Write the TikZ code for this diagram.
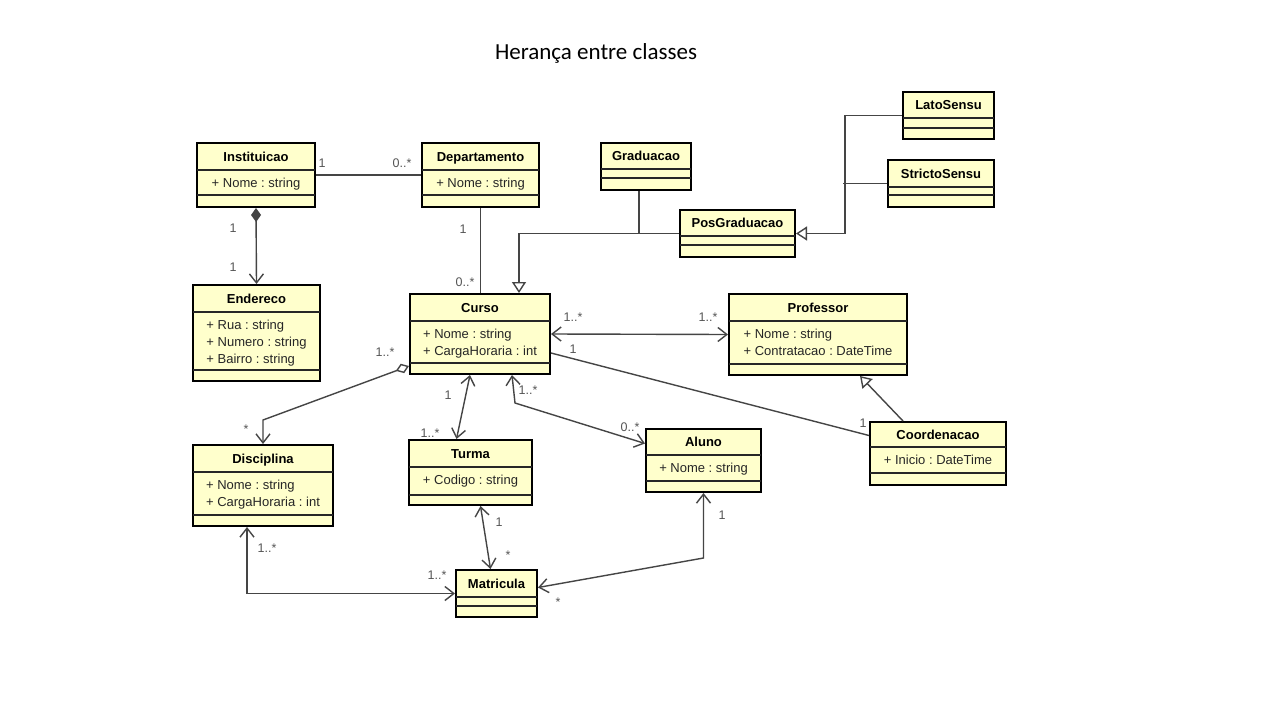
\documentclass[tikz,border=0pt]{standalone}
\usepackage{fontspec}
\setmainfont{Liberation Sans}
\newfontfamily\titlefont{Carlito}
\usetikzlibrary{arrows.meta,fit}
\frenchspacing

\definecolor{classfill}{HTML}{FFFFCC}
\definecolor{linkgray}{HTML}{454545}
\definecolor{multgray}{HTML}{555555}

\tikzstyle{umlbox} = [draw, line width=2pt, fill=classfill, inner sep=0pt]
\tikzstyle{divider} = [draw, line width=1.3pt, black!85]
\tikzstyle{classname} = [font=\bfseries\fontsize{13}{15}\selectfont, inner sep=0pt, text height=9pt, text depth=0pt]
\tikzstyle{attrs} = [font=\fontsize{13}{17}\selectfont, align=left, inner sep=0pt, text=black!85]
\tikzstyle{conn} = [draw, line width=1.4pt, linkgray]
\tikzstyle{nav} = [conn, <->]
\tikzstyle{gen} = [conn, -{Triangle[fill=white,length=11pt,width=14pt]}]
\tikzstyle{compo} = [conn, {Diamond[length=14pt,width=10pt]}->]
\tikzstyle{aggr} = [conn, {Diamond[fill=white,length=14pt,width=10pt]}->]
\tikzstyle{mult} = [font=\fontsize{12.5}{14}\selectfont, text=multgray, inner sep=0pt]

% class box: name, x1, y1, x2, y2, first divider, second divider, title, attributes
\newcommand{\umlclass}[9]{%
  \coordinate (#1-a) at (#2,#3);
  \coordinate (#1-b) at (#4,#5);
  \node[umlbox, fit=(#1-a)(#1-b)] (#1) {};
  \draw[divider] (#2,#6) -- (#4,#6);
  \draw[divider] (#2,#7) -- (#4,#7);
  \node[classname] (#1-name) at ({(#2+#4)/2},{(#3+#6)/2}) {#8};
  \node[attrs, anchor=north] (#1-attr) at ({(#2+#4)/2},{#6+8}) {#9};
}

\begin{document}
\begin{tikzpicture}[x=1pt,y=-1pt,>={Straight Barb[length=9pt,width=14pt]}]
\useasboundingbox (0,0) rectangle (1280,720);
\fill[white] (0,0) rectangle (1280,720);

\node[font=\titlefont\fontsize{23}{28}\selectfont] (title) at (596,53) {Herança entre classes};

% classes
\umlclass{inst}{197}{143}{315}{207}{170}{195}{Instituicao}{+ Nome : string}
\umlclass{dept}{422}{143}{539}{207}{170}{195}{Departamento}{+ Nome : string}
\umlclass{ender}{193}{285}{320}{381}{312}{370}{Endereco}{+ Rua : string\\+ Numero : string\\+ Bairro : string}
\umlclass{curso}{410}{294}{550}{374}{321}{363}{Curso}{+ Nome : string\\+ CargaHoraria : int}
\umlclass{grad}{601}{143}{691}{190}{169}{178}{Graduacao}{}
\umlclass{pos}{680}{210}{795}{257}{236}{245}{PosGraduacao}{}
\umlclass{lato}{903}{92}{994}{139}{118}{128}{LatoSensu}{}
\umlclass{stricto}{888}{160}{994}{207}{187}{195}{StrictoSensu}{}
\umlclass{prof}{729}{294}{907}{375}{321}{364}{Professor}{+ Nome : string\\+ Contratacao : DateTime}
\umlclass{coord}{870}{422}{1006}{485}{447}{473}{Coordenacao}{+ Inicio : DateTime}
\umlclass{aluno}{646}{429}{761}{492}{455}{481}{Aluno}{+ Nome : string}
\umlclass{disc}{193}{445}{333}{526}{472}{515}{Disciplina}{+ Nome : string\\+ CargaHoraria : int}
\umlclass{turma}{409}{440}{532}{505}{467}{495}{Turma}{+ Codigo : string}
\umlclass{matr}{456}{570}{537}{617}{597}{606}{Matricula}{}

% links
\draw[conn] (inst.east) -- (dept.west);
\draw[compo] (inst.south) -- (ender.north);
\draw[conn] (dept.south) -- (dept.south |- curso.north);
\draw[gen] (pos.west) -| ([xshift=39pt]curso.north);
\draw[conn] ([xshift=-7pt]grad.south) -- ([xshift=-7pt]grad.south |- pos.west);
\draw[gen] (lato.west) -| ([xshift=49pt]pos.east) -- (pos.east);
\draw[conn] (stricto.west) -- ++(-44,0);
\draw[nav] (curso.east) -- (prof.west);
\draw[conn] ([yshift=-19pt]curso.east) -- ([yshift=18pt]coord.west);
\draw[gen] ([xshift=-35pt]coord.north) -- ([xshift=42pt]prof.south);
\draw[nav] ([xshift=-10pt]curso.south) -- ([xshift=-14pt]turma.north);
\draw[nav] ([xshift=32pt]curso.south) -- (515,403) -- ([yshift=17pt]aluno.west);
\draw[aggr] ([yshift=9pt]curso.south west) -- (disc.north |- 0,420) -- (disc.north);
\draw[nav] ([xshift=10pt]turma.south) -- ([xshift=-6pt]matr.north);
\draw[nav] ([xshift=-16pt]disc.south) |- (matr.west);
\draw[nav] (aluno.south) -- (aluno.south |- 0,558) -- ([yshift=6pt]matr.east);

% multiplicities
\foreach \px/\py/\txt [count=\i] in {322/163/1, 402/163/{0..*}, 233/228/1, 233/267/1,
    463/229/1, 465/282/{0..*}, 573/317/{1..*}, 708/317/{1..*}, 573/349/1, 863/423/1,
    448/395/1, 430/433/{1..*}, 528/390/{1..*}, 630/427/{0..*}, 385/352/{1..*}, 246/429/*,
    499/522/1, 508/555/*, 267/548/{1..*}, 437/575/{1..*}, 722/515/1, 558/602/*}
  \node[mult] (mult\i) at (\px,\py) {\txt};
\end{tikzpicture}
\end{document}
